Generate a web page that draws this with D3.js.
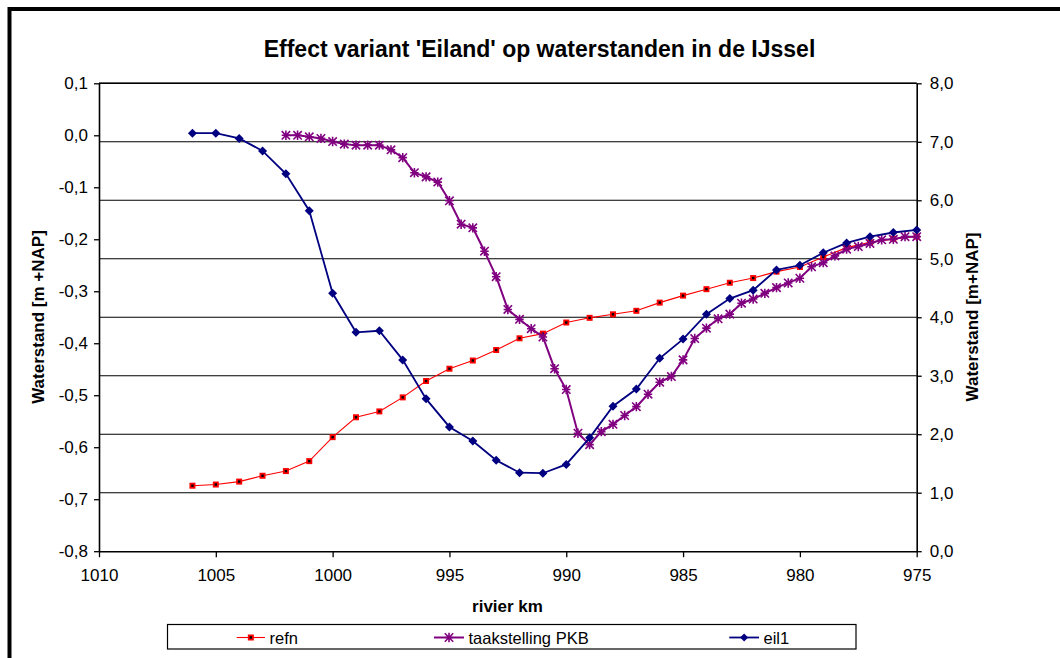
<!DOCTYPE html>
<html>
<head>
<meta charset="utf-8">
<script src="https://cdn.jsdelivr.net/npm/d3@7"></script>
<style>
  html, body { margin: 0; padding: 0; background: #fff; }
  svg { display: block; font-family: "Liberation Sans", Arial, sans-serif; }
</style>
</head>
<body>
<svg id="chart" width="1060" height="658"></svg>
<script>
// ---------- data ----------
const kmMain = [1006, 1005, 1004, 1003, 1002, 1001, 1000, 999, 998, 997, 996, 995, 994, 993, 992, 991,
                990, 989, 988, 987, 986, 985, 984, 983, 982, 981, 980, 979, 978, 977, 976, 975];
// refn: reference water level (right axis, m+NAP)
const refnValues = [1.12, 1.14, 1.19, 1.29, 1.37, 1.54, 1.95, 2.29, 2.39, 2.63, 2.91, 3.12, 3.26, 3.44, 3.64, 3.72,
                    3.91, 3.99, 4.05, 4.11, 4.25, 4.37, 4.48, 4.59, 4.67, 4.78, 4.86, 5.03, 5.19, 5.28, 5.34, 5.38];
// eil1: effect (left axis, m)
const eil1Values = [0.004, 0.004, -0.006, -0.030, -0.074, -0.145, -0.304, -0.379, -0.376, -0.432, -0.507, -0.561,
                    -0.588, -0.625, -0.649, -0.650, -0.633, -0.582, -0.521, -0.488, -0.429, -0.392, -0.344, -0.314,
                    -0.298, -0.259, -0.250, -0.226, -0.207, -0.195, -0.187, -0.182];
// taakstelling PKB (left axis, m), every half km
const kmTaak = [1002, 1001.5, 1001, 1000.5, 1000, 999.5, 999, 998.5, 998, 997.5, 997, 996.5, 996, 995.5, 995,
                994.5, 994, 993.5, 993, 992.5, 992, 991.5, 991, 990.5, 990, 989.5, 989, 988.5, 988, 987.5,
                987, 986.5, 986, 985.5, 985, 984.5, 984, 983.5, 983, 982.5, 982, 981.5, 981, 980.5, 980,
                979.5, 979, 978.5, 978, 977.5, 977, 976.5, 976, 975.5, 975];
const taakValues = [0.000, 0.000, -0.003, -0.006, -0.012, -0.017, -0.019, -0.019, -0.019, -0.028, -0.043, -0.072,
                    -0.080, -0.090, -0.126, -0.171, -0.178, -0.223, -0.272, -0.335, -0.354, -0.372, -0.388, -0.449,
                    -0.489, -0.573, -0.595, -0.570, -0.556, -0.539, -0.522, -0.498, -0.475, -0.464, -0.432, -0.391,
                    -0.371, -0.353, -0.344, -0.323, -0.315, -0.304, -0.293, -0.284, -0.275, -0.253, -0.245, -0.232,
                    -0.219, -0.214, -0.208, -0.201, -0.200, -0.195, -0.195];
const xTicks = [1010, 1005, 1000, 995, 990, 985, 980, 975];
const leftTicks = [-0.8, -0.7, -0.6, -0.5, -0.4, -0.3, -0.2, -0.1, 0.0, 0.1];
const rightTicks = [0, 1, 2, 3, 4, 5, 6, 7, 8];
const seriesNames = ["refn", "taakstelling PKB", "eil1"];
const titleText = "Effect variant 'Eiland' op waterstanden in de IJssel";
const xTitle = "rivier km";
const yLeftTitle = "Waterstand [m +NAP]";
const yRightTitle = "Waterstand [m+NAP]";

// ---------- setup ----------
const svg = d3.select("#chart");
const NAVY = "#000080", PURPLE = "#800080", RED = "#FF0000";
const loc = d3.formatLocale({decimal: ",", thousands: ".", grouping: [3], currency: ["", ""], minus: "-"});
const fmt1 = loc.format(".1f");

const plot = {left: 99, right: 916.7, top: 83.3, bottom: 551.2};
const x = d3.scaleLinear().domain([1010, 975]).range([plot.left, plot.right]);
const yL = d3.scaleLinear().domain([-0.8, 0.1]).range([plot.bottom, plot.top]);
const yR = d3.scaleLinear().domain([0, 8]).range([plot.bottom, plot.top]);

// outer chart border (cropped at right/bottom)
svg.append("rect").attr("x", 9.5).attr("y", 9).attr("width", 1100).attr("height", 700)
  .attr("fill", "#fff").attr("stroke", "#000").attr("stroke-width", 4);

// gridlines (secondary axis major)
svg.append("g").selectAll("line").data(rightTicks.filter(d => d > 0)).join("line")
  .attr("x1", plot.left).attr("x2", plot.right)
  .attr("y1", d => yR(d)).attr("y2", d => yR(d))
  .attr("stroke", "#000").attr("stroke-width", 1.1);

// axes
const axL = svg.append("g").attr("transform", `translate(${plot.left},0)`)
  .call(d3.axisLeft(yL).tickValues(leftTicks).tickFormat(fmt1).tickSize(5).tickPadding(6).tickSizeOuter(0));
const axR = svg.append("g").attr("transform", `translate(${plot.right},0)`)
  .call(d3.axisRight(yR).tickValues(rightTicks).tickFormat(fmt1).tickSize(5).tickPadding(8).tickSizeOuter(0));
const axB = svg.append("g").attr("transform", `translate(0,${plot.bottom})`)
  .call(d3.axisBottom(x).tickValues(xTicks).tickFormat(d3.format("d")).tickSize(6).tickPadding(12).tickSizeOuter(0));
[axL, axR, axB].forEach(a => {
  a.select(".domain").attr("stroke", "#000").attr("stroke-width", 1.6);
  a.selectAll(".tick line").attr("stroke", "#000").attr("stroke-width", 1.3);
  a.selectAll(".tick text").attr("fill", "#000").style("font-size", "17px")
    .style("font-family", '"Liberation Sans", Arial, sans-serif');
});
// top border of plot area
svg.append("line").attr("x1", plot.left).attr("x2", plot.right)
  .attr("y1", plot.top).attr("y2", plot.top).attr("stroke", "#000").attr("stroke-width", 1.4);

// ---------- series ----------
const refnData = kmMain.map((k, i) => ({k, v: refnValues[i]}));
const eilData = kmMain.map((k, i) => ({k, v: eil1Values[i]}));
const taakData = kmTaak.map((k, i) => ({k, v: taakValues[i]}));

function squareMarker(g, cx, cy) {
  g.append("rect").attr("x", cx - 3).attr("y", cy - 3).attr("width", 6).attr("height", 6).attr("fill", RED);
  g.append("rect").attr("x", cx - 1.2).attr("y", cy - 1.2).attr("width", 2.4).attr("height", 2.4).attr("fill", "#000");
}
function starMarker(g, cx, cy) {
  const r = 4.2;
  g.append("path")
    .attr("d", `M${cx - r},${cy - r}L${cx + r},${cy + r}M${cx - r},${cy + r}L${cx + r},${cy - r}M${cx},${cy - r - 0.5}L${cx},${cy + r + 0.5}M${cx - r},${cy}L${cx + r},${cy}`)
    .attr("stroke", PURPLE).attr("stroke-width", 1.6).attr("fill", "none");
}
function diamondMarker(g, cx, cy, r = 4.5) {
  g.append("path").attr("d", `M${cx},${cy - r}L${cx + r},${cy}L${cx},${cy + r}L${cx - r},${cy}Z`).attr("fill", NAVY);
}

// refn (right axis)
const gRef = svg.append("g");
gRef.append("path").datum(refnData)
  .attr("d", d3.line().x(d => x(d.k)).y(d => yR(d.v)))
  .attr("fill", "none").attr("stroke", RED).attr("stroke-width", 1.1);
refnData.forEach(d => squareMarker(gRef, x(d.k), yR(d.v)));

// taakstelling PKB (left axis)
const gTaak = svg.append("g");
gTaak.append("path").datum(taakData)
  .attr("d", d3.line().x(d => x(d.k)).y(d => yL(d.v)))
  .attr("fill", "none").attr("stroke", PURPLE).attr("stroke-width", 2);
taakData.forEach(d => starMarker(gTaak, x(d.k), yL(d.v)));

// eil1 (left axis)
const gEil = svg.append("g");
gEil.append("path").datum(eilData)
  .attr("d", d3.line().x(d => x(d.k)).y(d => yL(d.v)))
  .attr("fill", "none").attr("stroke", NAVY).attr("stroke-width", 1.8);
eilData.forEach(d => diamondMarker(gEil, x(d.k), yL(d.v)));

// ---------- titles ----------
svg.append("text").attr("x", 539.5).attr("y", 56.5).attr("text-anchor", "middle")
  .style("font-size", "23px").style("font-weight", "bold").text(titleText);
svg.append("text").attr("x", 507.5).attr("y", 612).attr("text-anchor", "middle")
  .style("font-size", "17px").style("font-weight", "bold").text(xTitle);
svg.append("text").attr("transform", "translate(44,317) rotate(-90)").attr("text-anchor", "middle")
  .style("font-size", "17px").style("font-weight", "bold").text(yLeftTitle);
svg.append("text").attr("transform", "translate(978,317) rotate(-90)").attr("text-anchor", "middle")
  .style("font-size", "17px").style("font-weight", "bold").text(yRightTitle);

// ---------- legend ----------
const leg = svg.append("g");
leg.append("rect").attr("x", 167.5).attr("y", 624.5).attr("width", 688.5).attr("height", 24.5)
  .attr("fill", "#fff").attr("stroke", "#000").attr("stroke-width", 1.2);
const legY = 637.5;
const legItems = [
  {name: seriesNames[0], x1: 236.7, x2: 265, tx: 269.5, color: RED, w: 1.1, marker: squareMarker},
  {name: seriesNames[1], x1: 434, x2: 464, tx: 468.5, color: PURPLE, w: 2, marker: starMarker},
  {name: seriesNames[2], x1: 729.3, x2: 759, tx: 763.5, color: NAVY, w: 1.8, marker: (g, cx, cy) => diamondMarker(g, cx, cy, 4)}
];
legItems.forEach(it => {
  leg.append("line").attr("x1", it.x1).attr("x2", it.x2).attr("y1", legY).attr("y2", legY)
    .attr("stroke", it.color).attr("stroke-width", it.w);
  it.marker(leg, (it.x1 + it.x2) / 2, legY);
  leg.append("text").attr("x", it.tx).attr("y", legY + 6).style("font-size", "16.5px").text(it.name);
});
</script>
</body>
</html>
